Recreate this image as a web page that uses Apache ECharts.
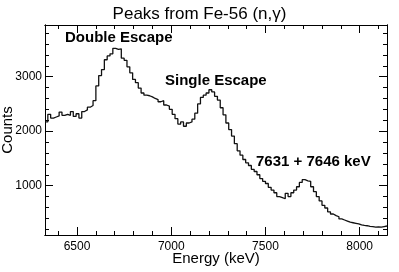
<!DOCTYPE html>
<html>
<head>
<meta charset="utf-8">
<script src="https://cdn.jsdelivr.net/npm/echarts@6/dist/echarts.min.js"></script>
<style>html,body{margin:0;padding:0;background:#fff}#c{width:399px;height:272px}</style>
</head>
<body>
<div id="c"></div>
<script>
// Histogram definition (energy in keV)
const binLow = 6330;
const binWidth = 15;
const counts = [
  2170, 2310, 2240, 2260, 2280, 2350, 2290, 2310, 2290, 2360,
  2270, 2320, 2240, 2360, 2390, 2440, 2470, 2560, 2830, 3020,
  3130, 3310, 3380, 3420, 3520, 3500, 3510, 3340, 3300, 3180,
  3070, 2950, 2890, 2790, 2700, 2660, 2650, 2630, 2600, 2580,
  2540, 2560, 2480, 2460, 2400, 2310, 2230, 2130, 2170, 2090,
  2150, 2170, 2220, 2330, 2500, 2620, 2660, 2700, 2760, 2720,
  2640, 2570, 2430, 2300, 2150, 2030, 1910, 1770, 1640, 1560,
  1480, 1420, 1370, 1300, 1260, 1200, 1130, 1080, 1040, 970,
  920, 870, 800, 780, 760, 860, 800, 870, 920, 980,
  1060, 1110, 1090, 1080, 980, 890, 800, 720, 640, 590,
  520, 480, 450, 430, 390, 370, 350, 330, 320, 310,
  300, 280, 270, 265, 255, 250, 240, 245, 240, 250,
  260
];
const xRange = [6330, 8145];
const yRange = [95, 3948];
const xTickLabels = [6500, 7000, 7500, 8000];
const xMinorTicks = [6400, 6500, 6600, 6700, 6800, 6900, 7000, 7100, 7200, 7300, 7400, 7500, 7600, 7700, 7800, 7900, 8000, 8100];
const yTickLabels = [1000, 2000, 3000];
const yMinorTicks = [200, 400, 600, 800, 1000, 1200, 1400, 1600, 1800, 2000, 2200, 2400, 2600, 2800, 3000, 3200, 3400, 3600, 3800];
const titleText = 'Peaks from Fe-56 (n,\u03b3)';
const xTitle = 'Energy (keV)';
const yTitle = 'Counts';
const annotations = ['Double Escape', 'Single Escape', '7631 + 7646 keV'];

const FONT = '"Liberation Sans", Arial, Helvetica, sans-serif';

// step points: left edge of each bin, plus final right edge
const stepData = counts.map((c, i) => [binLow + i * binWidth, c]);
stepData.push([binLow + counts.length * binWidth, counts[counts.length - 1]]);

function xAx(pos, ticks, len, labels, extra) {
  return Object.assign({
    type: 'value', position: pos, min: xRange[0], max: xRange[1],
    axisLine: { show: true, onZero: false, lineStyle: { color: '#000', width: 1 } },
    axisTick: { show: true, inside: true, length: len, customValues: ticks, lineStyle: { color: '#000', width: 1 } },
    axisLabel: labels ? { show: true, customValues: labels, formatter: v => String(v), color: '#000', fontSize: 12, fontFamily: FONT, margin: 6 } : { show: false },
    splitLine: { show: false }
  }, extra || {});
}
function yAx(pos, ticks, len, labels, extra) {
  return Object.assign({
    type: 'value', position: pos, min: yRange[0], max: yRange[1],
    axisLine: { show: true, onZero: false, lineStyle: { color: '#000', width: 1 } },
    axisTick: { show: true, inside: true, length: len, customValues: ticks, lineStyle: { color: '#000', width: 1 } },
    axisLabel: labels ? { show: true, customValues: labels, formatter: v => String(v), color: '#000', fontSize: 12, fontFamily: FONT, margin: 3 } : { show: false },
    splitLine: { show: false }
  }, extra || {});
}

const chart = echarts.init(document.getElementById('c'), null, { renderer: 'canvas' });
chart.setOption({
  animation: false,
  backgroundColor: '#fff',
  title: {
    text: titleText, left: 'center', top: 1,
    textStyle: { fontSize: 17, fontWeight: 'normal', color: '#000', fontFamily: FONT }
  },
  grid: { left: 45, right: 12, top: 25, bottom: 37, containLabel: false, outerBoundsMode: 'none' },
  xAxis: [
    xAx('bottom', xTickLabels, 8, xTickLabels, {
      name: xTitle, nameLocation: 'middle', nameGap: 16, nameMoveOverlap: false,
      nameTextStyle: { fontSize: 15, color: '#000', fontFamily: FONT, verticalAlign: 'top' }
    }),
    xAx('bottom', xMinorTicks, 4, null),
    xAx('top', xTickLabels, 8, null),
    xAx('top', xMinorTicks, 4, null)
  ],
  yAxis: [
    yAx('left', yTickLabels, 8, yTickLabels, {
      name: yTitle, nameLocation: 'middle', nameGap: 30, nameRotate: 90, nameMoveOverlap: false,
      nameTextStyle: { fontSize: 15, color: '#000', fontFamily: FONT }
    }),
    yAx('left', yMinorTicks, 4, null),
    yAx('right', yTickLabels, 8, null),
    yAx('right', yMinorTicks, 4, null)
  ],
  series: [{
    type: 'line', step: 'end', xAxisIndex: 0, yAxisIndex: 0,
    data: stepData, showSymbol: false, symbol: 'none', clip: true,
    lineStyle: { color: '#111', width: 1.3 }
  }],
  graphic: [
    { type: 'text', left: 65, top: 30, style: { text: annotations[0], fontSize: 15, fontWeight: 'bold', fill: '#000', fontFamily: FONT } },
    { type: 'text', left: 165, top: 73, style: { text: annotations[1], fontSize: 15, fontWeight: 'bold', fill: '#000', fontFamily: FONT } },
    { type: 'text', left: 256, top: 154, style: { text: annotations[2], fontSize: 15, fontWeight: 'bold', fill: '#000', fontFamily: FONT } }
  ]
});
</script>
</body>
</html>
